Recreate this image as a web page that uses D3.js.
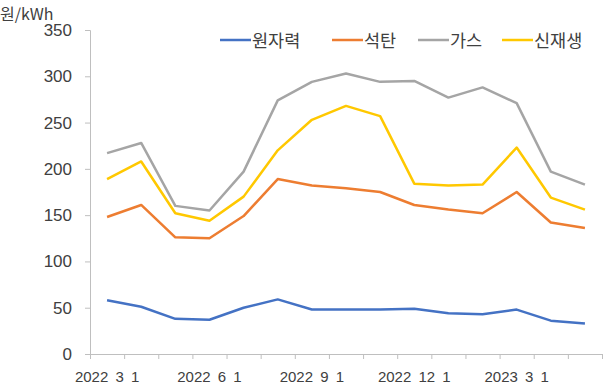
<!DOCTYPE html>
<html>
<head>
<meta charset="utf-8">
<script src="https://cdn.jsdelivr.net/npm/d3@7"></script>
<style>
  html, body { margin: 0; padding: 0; background: #fff; }
  svg { display: block; font-family: "Noto Sans CJK KR", "Noto Sans", sans-serif; }
</style>
</head>
<body>
<svg id="chart" width="613" height="391"></svg>
<script>
// Monthly generation cost by source (원/kWh)
const months = ["2022 3 1","2022 4 1","2022 5 1","2022 6 1","2022 7 1","2022 8 1","2022 9 1",
                "2022 10 1","2022 11 1","2022 12 1","2023 1 1","2023 2 1","2023 3 1","2023 4 1","2023 5 1"];
const seriesNames = ["원자력","석탄","가스","신재생"];
const nuclear   = [58, 51, 38, 37, 50, 59, 48, 48, 48, 49, 44, 43, 48, 36, 33];
const coal      = [148, 161, 126, 125, 149, 189, 182, 179, 175, 161, 156, 152, 175, 142, 136];
const gas       = [217, 228, 160, 155, 197, 274, 294, 303, 294, 295, 277, 288, 271, 197, 183];
const renewable = [189, 208, 152, 144, 170, 220, 253, 268, 257, 184, 182, 183, 223, 169, 156];
const colors    = ["#4472C4", "#ED7D31", "#A5A5A5", "#FFC800"];
const yTicks    = [0, 50, 100, 150, 200, 250, 300, 350];
const unitLabel = "원/kWh";

const series = [nuclear, coal, gas, renewable];

const svg = d3.select("#chart");
const plot = { left: 90, right: 602, top: 30, bottom: 354 };
const textColor = "#404040";
const axisColor = "#BFBFBF";

const x = d3.scaleBand().domain(months).range([plot.left, plot.right]);
const xEdges = d3.scaleLinear().domain([0, months.length]).range([plot.left, plot.right]);
const y = d3.scaleLinear().domain([0, 350]).range([plot.bottom, plot.top]);

// y axis
const yAxis = svg.append("g")
  .attr("transform", `translate(${plot.left},0)`)
  .call(d3.axisLeft(y).tickValues(yTicks).tickSize(5).tickPadding(13));
yAxis.select(".domain").attr("stroke", axisColor);
yAxis.selectAll(".tick line").attr("stroke", axisColor);
yAxis.selectAll(".tick text").attr("fill", textColor).attr("font-size", 17);

// x axis: boundary ticks between categories
const xTickAxis = svg.append("g")
  .attr("transform", `translate(0,${plot.bottom})`)
  .call(d3.axisBottom(xEdges).tickValues(d3.range(months.length + 1)).tickSize(5).tickFormat(""));
xTickAxis.select(".domain").attr("stroke", axisColor);
xTickAxis.selectAll(".tick line").attr("stroke", axisColor);

// x axis labels every third month
const xLabelAxis = svg.append("g")
  .attr("transform", `translate(0,${plot.bottom})`)
  .call(d3.axisBottom(x).tickValues(months.filter((d, i) => i % 3 === 0)).tickSize(0).tickPadding(17));
xLabelAxis.select(".domain").remove();
xLabelAxis.selectAll(".tick text").attr("fill", textColor).attr("font-size", 15)
  .attr("word-spacing", 3);

// unit label
svg.append("text")
  .attr("x", 0).attr("y", 19.5)
  .attr("fill", textColor).attr("font-size", 16)
  .text(unitLabel);

// lines
const line = d3.line()
  .x((d, i) => x(months[i]) + x.bandwidth() / 2)
  .y(d => y(d));

svg.append("g").selectAll("path")
  .data(series)
  .join("path")
  .attr("d", d => line(d))
  .attr("fill", "none")
  .attr("stroke", (d, i) => colors[i])
  .attr("stroke-width", 2.5)
  .attr("stroke-linejoin", "round");

// legend
const legendX = [220, 332, 418, 502];
const legend = svg.append("g");
seriesNames.forEach((name, i) => {
  const g = legend.append("g").attr("transform", `translate(${legendX[i]},40)`);
  g.append("line").attr("x1", 0).attr("x2", 31).attr("y1", 0).attr("y2", 0)
    .attr("stroke", colors[i]).attr("stroke-width", 2.5);
  g.append("text").attr("x", 32).attr("y", 6.5)
    .attr("fill", textColor).attr("font-size", 17.5).text(name);
});
</script>
</body>
</html>
